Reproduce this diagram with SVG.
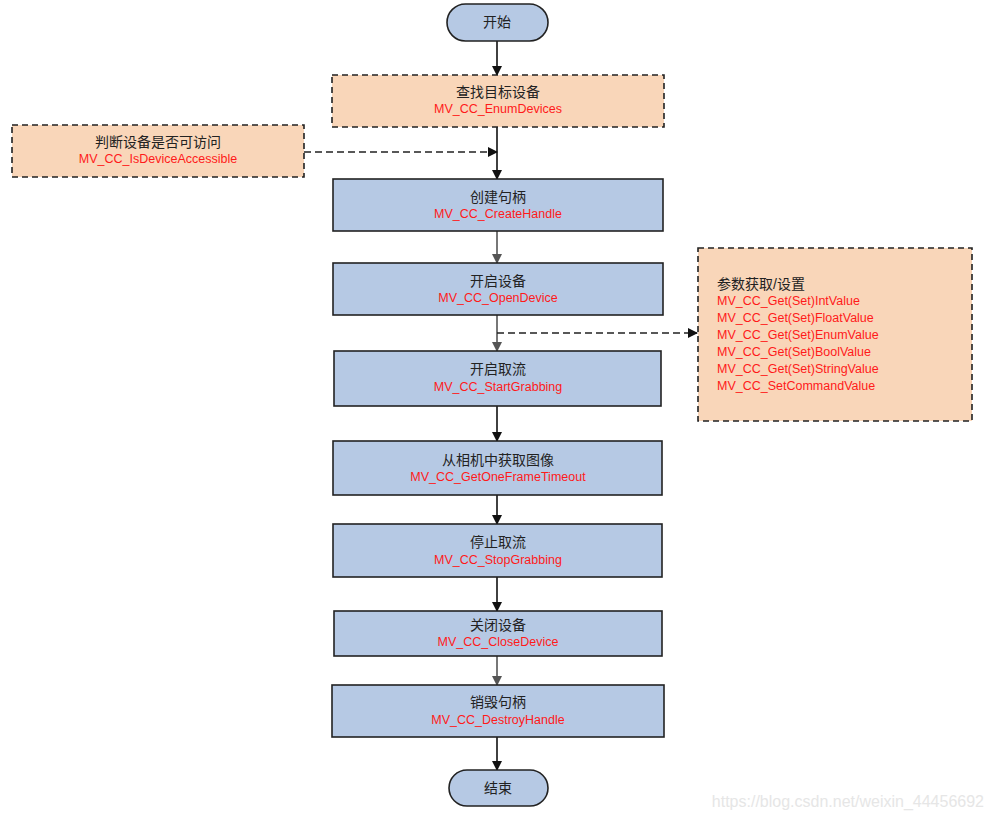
<svg xmlns="http://www.w3.org/2000/svg" width="993" height="820" viewBox="0 0 993 820">
<defs>
<style>
.blue{fill:#B6C9E4;stroke:#222;stroke-width:1.6}
.peach{fill:#F9D6B9;stroke:#222;stroke-width:1.6;stroke-dasharray:6 4}
.t{font-family:"Liberation Sans","Noto Sans CJK SC",sans-serif;font-size:14px;fill:#222;text-anchor:middle}
.r{font-family:"Liberation Sans","Noto Sans CJK SC",sans-serif;font-size:12.5px;fill:#FF1A1A;text-anchor:middle}
.l{text-anchor:start}
.c{fill:none;stroke:#111;stroke-width:1.6}
.g{fill:none;stroke:#555;stroke-width:1.6}
.d{fill:none;stroke:#222;stroke-width:1.5;stroke-dasharray:7 4}
</style>
<marker id="a" markerWidth="10" markerHeight="10" refX="9" refY="5" orient="auto" markerUnits="userSpaceOnUse"><path d="M0,0 L10,5 L0,10 Z" fill="#111"/></marker>
<marker id="ag" markerWidth="10" markerHeight="10" refX="9" refY="5" orient="auto" markerUnits="userSpaceOnUse"><path d="M0,0 L10,5 L0,10 Z" fill="#555"/></marker>
</defs>
<rect width="993" height="820" fill="#fff"/>
<g id="connectors">
<line class="c" x1="497" y1="41" x2="497" y2="75" marker-end="url(#a)"/>
<line class="c" x1="497" y1="127" x2="497" y2="179" marker-end="url(#a)"/>
<line class="d" x1="304" y1="152" x2="497" y2="152" marker-end="url(#a)"/>
<line class="g" x1="497" y1="231" x2="497" y2="263" marker-end="url(#ag)"/>
<line class="g" x1="497" y1="315" x2="497" y2="351" marker-end="url(#ag)"/>
<line class="d" x1="497" y1="333" x2="697" y2="333" marker-end="url(#a)"/>
<line class="c" x1="497" y1="406" x2="497" y2="441" marker-end="url(#a)"/>
<line class="c" x1="497" y1="495" x2="497" y2="524" marker-end="url(#a)"/>
<line class="c" x1="497" y1="577" x2="497" y2="611" marker-end="url(#a)"/>
<line class="g" x1="497" y1="656" x2="497" y2="685" marker-end="url(#ag)"/>
<line class="c" x1="497" y1="737" x2="497" y2="770" marker-end="url(#a)"/>
</g>
<g id="start"><rect class="blue" x="447" y="4" width="101" height="37" rx="18.5"/><text class="t" x="497" y="27">开始</text></g>
<g id="enum"><rect class="peach" x="332" y="75" width="332" height="52"/><text class="t" x="498" y="97">查找目标设备</text><text class="r" x="498" y="113">MV_CC_EnumDevices</text></g>
<g id="access"><rect class="peach" x="12" y="125" width="292" height="52"/><text class="t" x="158" y="147">判断设备是否可访问</text><text class="r" x="158" y="163">MV_CC_IsDeviceAccessible</text></g>
<g id="create"><rect class="blue" x="333" y="179" width="330" height="52"/><text class="t" x="498" y="202">创建句柄</text><text class="r" x="498" y="218">MV_CC_CreateHandle</text></g>
<g id="open"><rect class="blue" x="333" y="263" width="330" height="52"/><text class="t" x="498" y="286">开启设备</text><text class="r" x="498" y="302">MV_CC_OpenDevice</text></g>
<g id="params"><rect class="peach" x="698" y="248" width="274" height="173"/>
<text class="t l" x="717" y="289">参数获取/设置</text>
<text class="r l" x="717" y="305">MV_CC_Get(Set)IntValue</text>
<text class="r l" x="717" y="322">MV_CC_Get(Set)FloatValue</text>
<text class="r l" x="717" y="339">MV_CC_Get(Set)EnumValue</text>
<text class="r l" x="717" y="356">MV_CC_Get(Set)BoolValue</text>
<text class="r l" x="717" y="373">MV_CC_Get(Set)StringValue</text>
<text class="r l" x="717" y="390">MV_CC_SetCommandValue</text>
</g>
<g id="startgrab"><rect class="blue" x="334" y="351" width="327" height="55"/><text class="t" x="498" y="374">开启取流</text><text class="r" x="498" y="391">MV_CC_StartGrabbing</text></g>
<g id="getframe"><rect class="blue" x="333" y="441" width="329" height="54"/><text class="t" x="498" y="465">从相机中获取图像</text><text class="r" x="498" y="481">MV_CC_GetOneFrameTimeout</text></g>
<g id="stopgrab"><rect class="blue" x="333" y="524" width="329" height="53"/><text class="t" x="498" y="547">停止取流</text><text class="r" x="498" y="564">MV_CC_StopGrabbing</text></g>
<g id="close"><rect class="blue" x="334" y="611" width="328" height="45"/><text class="t" x="498" y="630">关闭设备</text><text class="r" x="498" y="646">MV_CC_CloseDevice</text></g>
<g id="destroy"><rect class="blue" x="332" y="685" width="332" height="52"/><text class="t" x="498" y="707">销毁句柄</text><text class="r" x="498" y="724">MV_CC_DestroyHandle</text></g>
<g id="end"><rect class="blue" x="449" y="770" width="99" height="36" rx="18"/><text class="t" x="498" y="793">结束</text></g>
<text x="984" y="807" font-family="Liberation Sans, sans-serif" font-size="16" fill="#e6e6e6" text-anchor="end">https://blog.csdn.net/weixin_44456692</text>
</svg>
